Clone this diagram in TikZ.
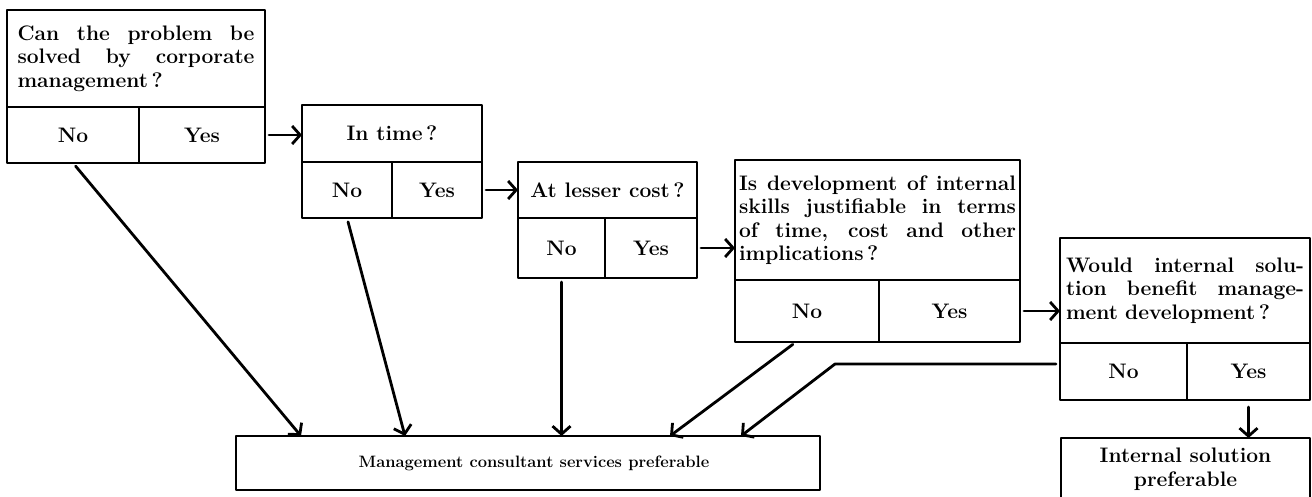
\documentclass[tikz,border=0pt]{standalone}
\usepackage{tikz}
\usetikzlibrary{arrows.meta,positioning,calc}
\newcommand{\qfont}{\fontsize{21}{23.5}\selectfont\bfseries}
% full-width line with stretched word spaces
\newcommand{\justline}[2]{{\spaceskip=0pt\xspaceskip=0pt\makebox[#1][s]{#2}}}

\begin{document}
\begin{tikzpicture}[x=1pt,y=-1pt,line cap=round,line join=round,
  box/.style={draw,line width=2.8pt,inner sep=0pt,outer sep=0pt,font=\qfont},
  ques/.style={box,anchor=north west},
  cell/.style={box,anchor=north west,minimum height=#1},
  arr/.style={line width=2.8pt,shorten <=4pt,-{Straight Barb[length=8pt,width=18pt]}}]
  \clip (0,0) rectangle (1312,497);
  % questions
  \node[ques,minimum width=258pt,minimum height=97pt,text width=237pt,align=left] (q1) at (7,10)
    {\justline{237pt}{Can the problem be}\\\justline{237pt}{solved by corporate}\\management\,?};
  \node[cell=56pt,minimum width=132pt] (no1) at (q1.south west) {No};
  \node[cell=56pt,minimum width=126pt] (yes1) at (no1.north east) {Yes};

  \node[ques,minimum width=180pt,minimum height=57pt] (q2) at (302,105) {In time\,?};
  \node[cell=56pt,minimum width=90pt] (no2) at (q2.south west) {No};
  \node[cell=56pt,minimum width=90pt] (yes2) at (no2.north east) {Yes};

  \node[ques,minimum width=179pt,minimum height=56pt] (q3) at (518,162) {At lesser cost\,?};
  \node[cell=60pt,minimum width=87pt] (no3) at (q3.south west) {No};
  \node[cell=60pt,minimum width=92pt] (yes3) at (no3.north east) {Yes};

  \node[ques,minimum width=285pt,minimum height=120pt,text width=277pt,align=left] (q4) at (735,160)
    {\justline{277pt}{Is development of internal}\\\justline{277pt}{skills justifiable in terms}\\
     \justline{277pt}{of time, cost and other}\\implications\,?};
  \node[cell=62pt,minimum width=144pt] (no4) at (q4.south west) {No};
  \node[cell=62pt,minimum width=141pt] (yes4) at (no4.north east) {Yes};

  \node[ques,minimum width=250pt,minimum height=105pt,text width=238pt,align=left] (q5) at (1060,238)
    {\justline{238pt}{Would internal solu-}\\\justline{238pt}{tion benefit manage-}\\ment development\,?};
  \node[cell=57pt,minimum width=127pt] (no5) at (q5.south west) {No};
  \node[cell=57pt,minimum width=123pt] (yes5) at (no5.north east) {Yes};

  % outcomes
  \node[ques,minimum width=584pt,minimum height=54pt,font=\fontsize{16.5}{19}\selectfont\bfseries] (cons) at (236,436)
    {\hspace{12pt}Management consultant services preferable};
  \node[ques,minimum width=249pt,minimum height=62pt,align=center] (inpref) at (1061,438)
    {Internal solution\\preferable};

  % yes arrows
  \foreach \a/\b in {yes1/q2,yes2/q3,yes3/q4,yes4/q5}
    \draw[arr] (\a.east) -- (\a.east -| \b.west);
  \draw[arr,shorten <=7pt] (yes5.south) -- (yes5.south |- inpref.north);

  % no arrows
  \foreach \a/\s/\t in {no1/0/65,no2/0/169,no4/-11/434}
    \draw[arr] ([xshift=\s pt]\a.south) -- ([xshift=\t pt]cons.north west);
  \draw[arr] (no3.south) -- (no3.south |- cons.north west);
  \coordinate (kink) at (835,364);
  \draw[arr] ([yshift=7.5pt]no5.west) -- ([yshift=7.5pt]no5.west -| kink) -- ([xshift=505pt]cons.north west);
\end{tikzpicture}
\end{document}
